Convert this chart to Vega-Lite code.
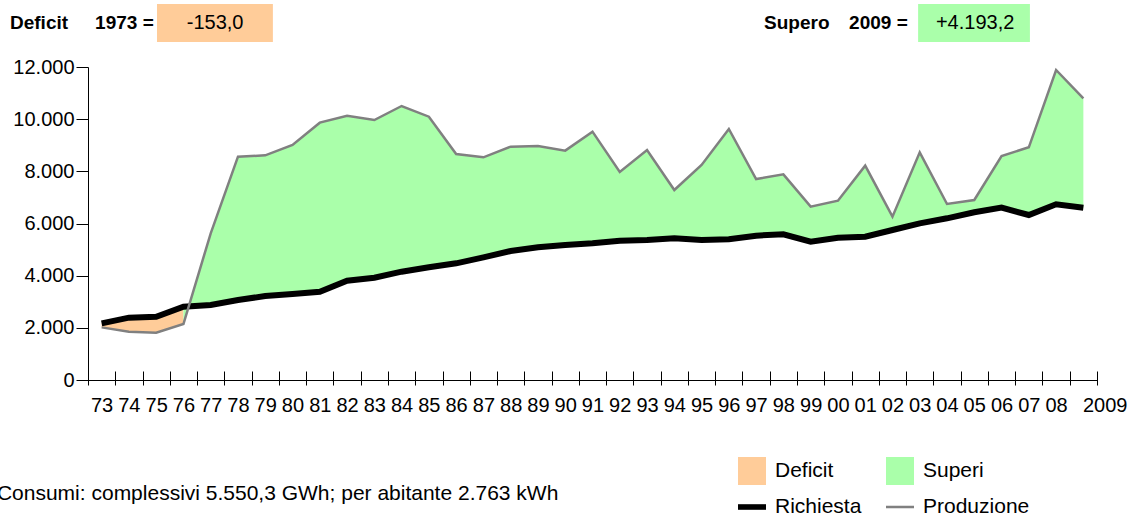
{
  "$schema": "https://vega.github.io/schema/vega-lite/v6.json",
  "width": 1009,
  "height": 313,
  "autosize": "none",
  "padding": {"left": 88, "top": 67, "right": 31, "bottom": 135},
  "background": "white",
  "config": {"view": {"stroke": null}, "font": "Liberation Sans"},
  "datasets": {
    "energia": [
      {"anno": 1973, "Richiesta": 2170, "Produzione": 2017},
      {"anno": 1974, "Richiesta": 2389, "Produzione": 1852},
      {"anno": 1975, "Richiesta": 2427, "Produzione": 1814},
      {"anno": 1976, "Richiesta": 2811, "Produzione": 2147},
      {"anno": 1977, "Richiesta": 2876, "Produzione": 5624},
      {"anno": 1978, "Richiesta": 3067, "Produzione": 8562},
      {"anno": 1979, "Richiesta": 3220, "Produzione": 8614},
      {"anno": 1980, "Richiesta": 3297, "Produzione": 9010},
      {"anno": 1981, "Richiesta": 3386, "Produzione": 9866},
      {"anno": 1982, "Richiesta": 3808, "Produzione": 10134},
      {"anno": 1983, "Richiesta": 3923, "Produzione": 9968},
      {"anno": 1984, "Richiesta": 4153, "Produzione": 10505},
      {"anno": 1985, "Richiesta": 4320, "Produzione": 10096},
      {"anno": 1986, "Richiesta": 4473, "Produzione": 8665},
      {"anno": 1987, "Richiesta": 4703, "Produzione": 8537},
      {"anno": 1988, "Richiesta": 4946, "Produzione": 8946},
      {"anno": 1989, "Richiesta": 5087, "Produzione": 8972},
      {"anno": 1990, "Richiesta": 5176, "Produzione": 8793},
      {"anno": 1991, "Richiesta": 5240, "Produzione": 9521},
      {"anno": 1992, "Richiesta": 5342, "Produzione": 7975},
      {"anno": 1993, "Richiesta": 5368, "Produzione": 8818},
      {"anno": 1994, "Richiesta": 5432, "Produzione": 7285},
      {"anno": 1995, "Richiesta": 5368, "Produzione": 8243},
      {"anno": 1996, "Richiesta": 5393, "Produzione": 9623},
      {"anno": 1997, "Richiesta": 5534, "Produzione": 7706},
      {"anno": 1998, "Richiesta": 5585, "Produzione": 7885},
      {"anno": 1999, "Richiesta": 5304, "Produzione": 6646},
      {"anno": 2000, "Richiesta": 5457, "Produzione": 6876},
      {"anno": 2001, "Richiesta": 5496, "Produzione": 8218},
      {"anno": 2002, "Richiesta": 5751, "Produzione": 6263},
      {"anno": 2003, "Richiesta": 6007, "Produzione": 8728},
      {"anno": 2004, "Richiesta": 6199, "Produzione": 6748},
      {"anno": 2005, "Richiesta": 6429, "Produzione": 6901},
      {"anno": 2006, "Richiesta": 6607, "Produzione": 8588},
      {"anno": 2007, "Richiesta": 6326, "Produzione": 8921},
      {"anno": 2008, "Richiesta": 6735, "Produzione": 11885},
      {"anno": 2009, "Richiesta": 6607, "Produzione": 10800}
    ],
    "voci": [
      {"voce": "Deficit"},
      {"voce": "Superi"},
      {"voce": "Richiesta"},
      {"voce": "Produzione"}
    ]
  },
  "layer": [
    {
      "data": {"name": "energia"},
      "transform": [{"filter": "datum.anno <= 1976"}],
      "mark": {"type": "area", "color": "#FFCC99"},
      "encoding": {
        "x": {
          "field": "anno", "type": "quantitative",
          "scale": {"domain": [1972.5, 2009.5], "nice": false, "zero": false},
          "axis": {
            "title": null,
            "values": [1972.5, 1973.5, 1974.5, 1975.5, 1976.5, 1977.5, 1978.5, 1979.5, 1980.5, 1981.5, 1982.5, 1983.5, 1984.5, 1985.5, 1986.5, 1987.5, 1988.5, 1989.5, 1990.5, 1991.5, 1992.5, 1993.5, 1994.5, 1995.5, 1996.5, 1997.5, 1998.5, 1999.5, 2000.5, 2001.5, 2002.5, 2003.5, 2004.5, 2005.5, 2006.5, 2007.5, 2008.5, 2009.5],
            "tickCount": 200,
            "domain": false,
            "offset": -9,
            "tickSize": 14,
            "tickColor": "black",
            "grid": false,
            "labelExpr": "datum.value > 2009 ? '' : (datum.value > 2008 ? '2009' : slice(format(datum.value + 0.5, 'd'), 2))",
            "labelOffset": {"condition": {"test": "datum.value > 2008 && datum.value < 2009", "value": 35}, "value": 13.6},
            "labelFontSize": 20,
            "labelFont": "Liberation Sans",
            "labelColor": "black",
            "labelPadding": 10,
            "labelOverlap": false,
            "labelFlush": false,
            "labelBound": false
          }
        },
        "y": {
          "field": "Richiesta", "type": "quantitative",
          "scale": {"domain": [0, 12000], "nice": false},
          "axis": {
            "title": null,
            "values": [0, 2000, 4000, 6000, 8000, 10000, 12000],
            "tickCount": 50,
            "tickSize": 12,
            "tickColor": "black",
            "domainColor": "black",
            "labelPadding": 2,
            "labelFontSize": 20,
            "labelFont": "Liberation Sans",
            "labelColor": "black",
            "labelExpr": "replace(format(datum.value, ','), ',', '.')",
            "labelFlush": false,
            "labelOverlap": false,
            "grid": true,
            "gridColor": "black",
            "gridWidth": 1,
            "gridOpacity": {"condition": {"test": "datum.value == 0", "value": 1}, "value": 0}
          }
        },
        "y2": {"field": "Produzione"}
      }
    },
    {
      "data": {"name": "energia"},
      "transform": [{"filter": "datum.anno >= 1976"}],
      "mark": {"type": "area", "color": "#AAFFAA"},
      "encoding": {
        "x": {"field": "anno", "type": "quantitative", "title": null},
        "y": {"field": "Produzione", "type": "quantitative", "title": null},
        "y2": {"field": "Richiesta"}
      }
    },
    {
      "data": {"name": "energia"},
      "mark": {"type": "line", "color": "black", "strokeWidth": 6},
      "encoding": {
        "x": {"field": "anno", "type": "quantitative", "title": null},
        "y": {"field": "Richiesta", "type": "quantitative", "title": null}
      }
    },
    {
      "data": {"name": "energia"},
      "mark": {"type": "line", "color": "#808080", "strokeWidth": 2.5},
      "encoding": {
        "x": {"field": "anno", "type": "quantitative", "title": null},
        "y": {"field": "Produzione", "type": "quantitative", "title": null}
      }
    },
    {
      "data": {"name": "voci"},
      "mark": {"type": "point", "filled": true, "opacity": 0},
      "encoding": {
        "color": {
          "field": "voce", "type": "nominal",
          "scale": {"domain": ["Deficit", "Superi", "Richiesta", "Produzione"], "range": ["#FFCC99", "#AAFFAA", "#000000", "#808080"]},
          "legend": {"orient": "none", "legendX": 650, "legendY": 390, "direction": "horizontal", "columns": 2, "title": null, "symbolSize": 784, "labelFontSize": 21, "labelFont": "Liberation Sans", "labelColor": "black", "labelOffset": 9, "rowPadding": 8, "columnPadding": 24, "symbolOpacity": 1, "symbolStrokeWidth": 0, "padding": 0}
        },
        "shape": {
          "field": "voce", "type": "nominal",
          "scale": {"domain": ["Deficit", "Superi", "Richiesta", "Produzione"], "range": ["M-1,-1H1V1H-1Z", "M-1,-1H1V1H-1Z", "M-1,-0.2H1V0.2H-1Z", "M-1,-0.09H1V0.09H-1Z"]},
          "legend": {"orient": "none", "legendX": 650, "legendY": 390, "direction": "horizontal", "columns": 2, "title": null, "symbolSize": 784, "labelFontSize": 21, "labelFont": "Liberation Sans", "labelColor": "black", "labelOffset": 9, "rowPadding": 8, "columnPadding": 24, "symbolOpacity": 1, "symbolStrokeWidth": 0, "padding": 0}
        }
      }
    },
    {
      "data": {"values": [{"testo": "Deficit"}]},
      "mark": {"type": "text", "align": "left", "baseline": "middle", "fontWeight": "bold", "fontSize": 19, "color": "black"},
      "encoding": {"x": {"datum": 1969.64, "type": "quantitative"}, "y": {"datum": 13687, "type": "quantitative"}, "text": {"field": "testo"}}
    },
    {
      "data": {"values": [{"testo": "1973 ="}]},
      "mark": {"type": "text", "align": "left", "baseline": "middle", "fontWeight": "bold", "fontSize": 19, "color": "black"},
      "encoding": {"x": {"datum": 1972.76, "type": "quantitative"}, "y": {"datum": 13687, "type": "quantitative"}, "text": {"field": "testo"}}
    },
    {
      "data": {"values": [{"testo": "box"}]},
      "mark": {"type": "rect", "color": "#FFCC99"},
      "encoding": {"x": {"datum": 1975.03, "type": "quantitative"}, "x2": {"datum": 1979.28}, "y": {"datum": 14416, "type": "quantitative"}, "y2": {"datum": 12959}}
    },
    {
      "data": {"values": [{"testo": "-153,0"}]},
      "mark": {"type": "text", "align": "center", "baseline": "middle", "fontSize": 20, "color": "black"},
      "encoding": {"x": {"datum": 1977.16, "type": "quantitative"}, "y": {"datum": 13687, "type": "quantitative"}, "text": {"field": "testo"}}
    },
    {
      "data": {"values": [{"testo": "Supero"}]},
      "mark": {"type": "text", "align": "left", "baseline": "middle", "fontWeight": "bold", "fontSize": 19, "color": "black"},
      "encoding": {"x": {"datum": 1997.29, "type": "quantitative"}, "y": {"datum": 13687, "type": "quantitative"}, "text": {"field": "testo"}}
    },
    {
      "data": {"values": [{"testo": "2009 ="}]},
      "mark": {"type": "text", "align": "left", "baseline": "middle", "fontWeight": "bold", "fontSize": 19, "color": "black"},
      "encoding": {"x": {"datum": 2000.41, "type": "quantitative"}, "y": {"datum": 13687, "type": "quantitative"}, "text": {"field": "testo"}}
    },
    {
      "data": {"values": [{"testo": "box"}]},
      "mark": {"type": "rect", "color": "#AAFFAA"},
      "encoding": {"x": {"datum": 2002.94, "type": "quantitative"}, "x2": {"datum": 2007.04}, "y": {"datum": 14416, "type": "quantitative"}, "y2": {"datum": 12959}}
    },
    {
      "data": {"values": [{"testo": "+4.193,2"}]},
      "mark": {"type": "text", "align": "center", "baseline": "middle", "fontSize": 20, "color": "black"},
      "encoding": {"x": {"datum": 2005.03, "type": "quantitative"}, "y": {"datum": 13687, "type": "quantitative"}, "text": {"field": "testo"}}
    },
    {
      "data": {"values": [{"testo": "Consumi: complessivi 5.550,3 GWh; per abitante 2.763 kWh"}]},
      "mark": {"type": "text", "align": "left", "baseline": "middle", "fontSize": 21, "color": "black"},
      "encoding": {"x": {"datum": 1969.16, "type": "quantitative"}, "y": {"datum": -4371, "type": "quantitative"}, "text": {"field": "testo"}}
    }
  ]
}
